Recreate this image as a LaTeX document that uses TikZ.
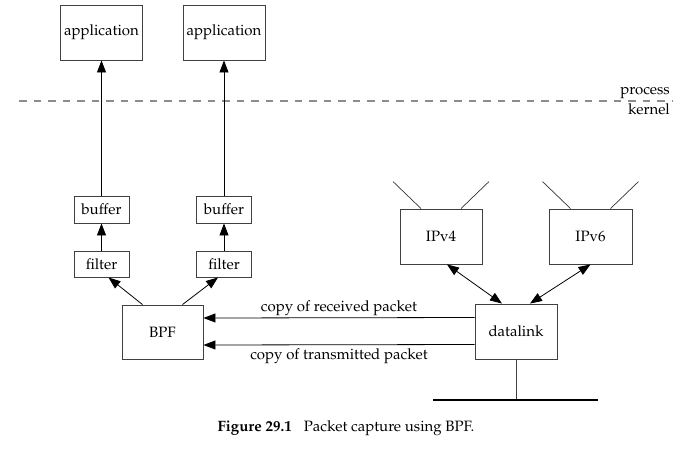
\documentclass[tikz,border=0pt]{standalone}
\usepackage[T1]{fontenc}
\usepackage{mathpazo}
\usetikzlibrary{arrows.meta}
\tikzset{box/.style={draw=black!75,line width=0.9pt,inner sep=0pt},
         arr/.style={-{Triangle[length=12pt,width=9pt]},line width=0.8pt},
         darr/.style={{Triangle[length=12pt,width=9pt]}-{Triangle[length=12pt,width=9pt]},line width=0.8pt}}

\begin{document}
\begin{tikzpicture}[x=1pt,y=-1pt,every node/.style={font=\fontsize{15}{18}\selectfont}]
\useasboundingbox (0,0) rectangle (699,456);
% process/kernel boundary
\coordinate (sepL) at (19,101);
\coordinate (sepR) at (672,101);
\draw[black!45,line width=1.4pt,dash pattern=on 7.5pt off 7pt] (sepL)--(sepR);
\node[anchor=south east,inner sep=2pt] (proc) at (sepR) {process};
\node[anchor=north east,inner sep=2pt] (kern) at (sepR) {kernel};
% the two receivers
\foreach \n/\x in {1/101.5,2/224}{
  \node[box,minimum width=82pt,minimum height=55pt] (app\n) at (\x,32.5) {application};
  \node[box,minimum width=55pt,minimum height=27pt] (buf\n) at (\x,209.5) {buffer};
  \node[box,minimum width=55pt,minimum height=26pt] (filt\n) at (\x,264) {filter};
  \draw[arr] (buf\n)--(app\n);
  \draw[arr] (filt\n)--(buf\n);
}
\node[box,minimum width=81pt,minimum height=54pt] (bpf) at (162.5,332) {BPF};
\node[box,minimum width=82pt,minimum height=55pt] (dlink) at (516,331.5) {datalink};
\node[box,minimum width=82pt,minimum height=55pt] (ipv4) at (441,236.5) {IPv4};
\node[box,minimum width=83pt,minimum height=55pt] (ipv6) at (590.5,236.5) {IPv6};
\draw[arr] ([xshift=-20pt]bpf.north)--([xshift=7pt]filt1.south);
\draw[arr] ([xshift=20pt]bpf.north)--([xshift=-6pt]filt2.south);
\draw[arr] ([yshift=14pt]dlink.west)--node[above,inner sep=1.5pt]{copy of received packet} ([yshift=14pt]bpf.east);
\draw[arr] ([yshift=-13pt]dlink.west)--node[below,inner sep=3pt]{copy of transmitted packet} ([yshift=-13pt]bpf.east);
\draw[darr] ([xshift=6pt]ipv4.south)--([xshift=-14pt]dlink.north);
\draw[darr] (ipv6.south)--([xshift=14pt]dlink.north);
\foreach \p in {ipv4,ipv6}{
  \draw[black!80,line width=0.7pt] ([xshift=-20pt]\p.north)--++(-28,-27);
  \draw[black!80,line width=0.7pt] ([xshift=20pt]\p.north)--++(28,-27);
}
% the wire
\coordinate (busL) at (433,400);
\coordinate (busR) at (598,400);
\draw[black!75,line width=0.9pt] (dlink.south)--(dlink.south |- busL);
\draw[line width=2.6pt] (busL)--(busR);
\node (cap) at (346,428) {\textbf{Figure 29.1}\hspace{12pt}Packet capture using BPF.};
\end{tikzpicture}
\end{document}
